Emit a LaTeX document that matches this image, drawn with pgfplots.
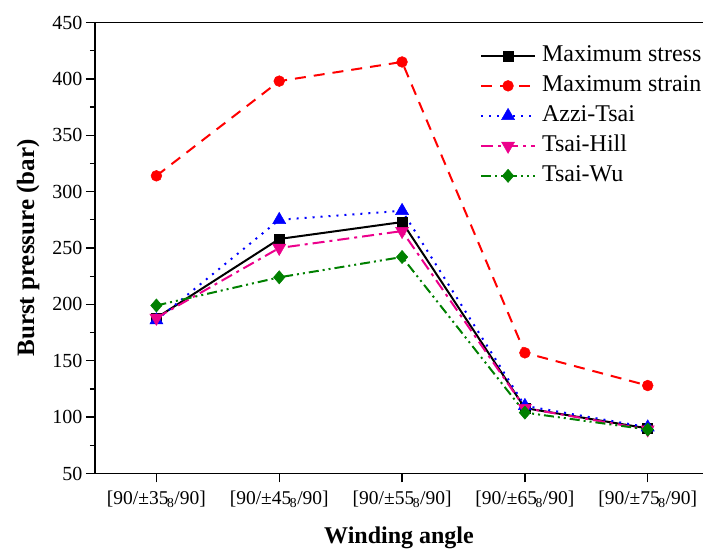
\documentclass[border=0pt]{standalone}
\usepackage{fontspec}
\setmainfont{Liberation Serif}
\usepackage{pgfplots}
\pgfplotsset{compat=1.18}
\definecolor{wugreen}{RGB}{0,128,0}
\newcommand{\sub}[1]{\kern-1.5pt\textsubscript{#1}}

\begin{document}
\begin{tikzpicture}
\begin{axis}[
  scale only axis, width=608pt, height=451pt,
  xmin=-0.5, xmax=4.45, ymin=50, ymax=450,
  axis lines=left, axis line style={-, line width=1.3pt},
  xtick={0,...,4},
  xticklabels={{[90/±35\sub{8}/90]},{[90/±45\sub{8}/90]},{[90/±55\sub{8}/90]},{[90/±65\sub{8}/90]},{[90/±75\sub{8}/90]}},
  ytick={50,100,...,450}, minor y tick num=1,
  tick align=outside, major tick length=9pt, minor tick length=5pt,
  tick style={line width=1.3pt, black},
  tick label style={font=\fontsize{20}{24}\selectfont},
  xticklabel style={yshift=-5pt, font=\fontsize{19.5}{24}\selectfont},
  /pgf/number format/assume math mode=true,
  xlabel={\textbf{Winding angle}}, ylabel={\textbf{Burst pressure (bar)}},
  xlabel style={font=\fontsize{24}{28}\selectfont, at={([yshift=-64pt]axis description cs:0.5,0)}, anchor=center},
  ylabel style={font=\fontsize{25}{28}\selectfont, at={([xshift=-67pt]axis description cs:0,0.5)}, anchor=center},
  legend style={at={(0.633,0.952)}, anchor=north west, draw=none, fill=none, inner sep=0pt,
    font=\fontsize{24}{28}\selectfont, row sep=7pt,
    nodes={inner sep=0pt, text height=17pt, text depth=6pt},
    /tikz/every odd column/.append style={column sep=6pt}},
  legend cell align=left,
  legend image code/.code={\draw[mark repeat=2,mark phase=2] plot coordinates {(0pt,0pt) (27pt,0pt) (54pt,0pt)};},
  every axis plot/.append style={line width=2pt},
  clip=false,
]
\addplot[black, mark=square*, mark size=5pt, mark options={solid, line width=0.5pt}]
  coordinates {(0,188) (1,258) (2,273) (3,108) (4,90)};
\addlegendentry{Maximum stress}
\addplot[red, dash pattern=on 11pt off 8pt, mark=*, mark size=5.4pt, mark options={solid, line width=0.5pt}]
  coordinates {(0,314) (1,398) (2,415) (3,157) (4,128)};
\addlegendentry{Maximum strain}
\addplot[blue, dash pattern=on 2pt off 6pt, mark=triangle*, mark size=7.5pt, mark options={solid, line width=0.5pt}]
  coordinates {(0,186) (1,275) (2,283) (3,110) (4,91)};
\addlegendentry{Azzi-Tsai}
\addplot[magenta, dash pattern=on 12pt off 5pt on 3pt off 5pt, mark=triangle*, mark size=7.5pt, mark options={solid, line width=0.5pt, rotate=180}]
  coordinates {(0,188) (1,250) (2,265) (3,108) (4,89)};
\addlegendentry{Tsai-Hill}
\addplot[wugreen, dash pattern=on 10pt off 4pt on 2pt off 4pt on 2pt off 4pt, mark=diamond*, mark size=6.6pt, mark options={solid, line width=0.5pt, xscale=1.15}]
  coordinates {(0,199) (1,224) (2,242) (3,104) (4,89)};
\addlegendentry{Tsai-Wu}
\draw[line width=1.3pt] (rel axis cs:0,1) -- (rel axis cs:1,1);
\coordinate (bl) at (rel axis cs:0,0);
\coordinate (tr) at (rel axis cs:1,1);
\end{axis}
\pgfresetboundingbox
\path ([xshift=-95pt,yshift=-76.7pt]bl) rectangle ([yshift=22.5pt]tr);
\end{tikzpicture}
\end{document}
